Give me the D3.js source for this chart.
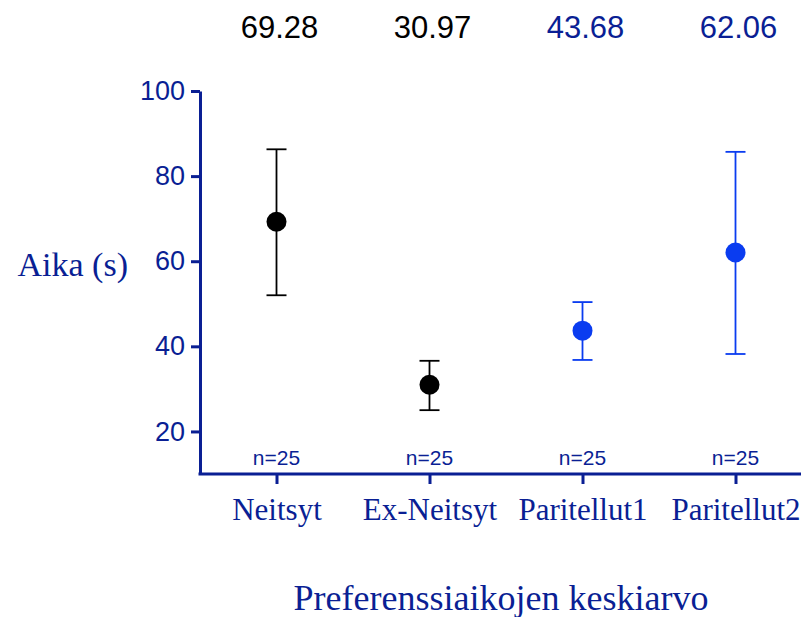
<!DOCTYPE html>
<html>
<head>
<meta charset="utf-8">
<script src="https://d3js.org/d3.v7.min.js"></script>
<style>
  body { margin: 0; background: #fff; }
  svg { display: block; }
</style>
</head>
<body>
<div id="chart"></div>
<script>
// data
var categories = ["Neitsyt", "Ex-Neitsyt", "Paritellut1", "Paritellut2"];
var means = [69.28, 30.97, 43.68, 62.06];
var upper = [86.3, 36.6, 50.4, 85.7];
var lower = [52.0, 25.0, 36.8, 38.2];
var counts = [25, 25, 25, 25];
var yTicks = [20, 40, 60, 80, 100];

var width = 801;
var height = 617;
var navy = "#0a1f94";

var rows = categories.map(function(c, i) {
  return { cat: c, mean: means[i], hi: upper[i], lo: lower[i], n: counts[i] };
});

// black for the first two groups, blue for the mated ones
var markColor = d3.scaleOrdinal().domain(categories)
  .range(["#000000", "#000000", "#0a3cf0", "#0a3cf0"]);
var topColor = d3.scaleOrdinal().domain(categories)
  .range(["#000000", "#000000", navy, navy]);

var svg = d3.select("#chart")
  .append("svg")
  .attr("width", width)
  .attr("height", height);

var x = d3.scalePoint()
  .domain(categories)
  .range([200, 812])
  .padding(0.5);

var y = d3.scaleLinear()
  .domain([10, 100])
  .range([474, 91]);

// axes
var yAxis = d3.axisLeft(y).tickValues(yTicks).tickSize(9).tickSizeOuter(0).tickPadding(6);
var xAxis = d3.axisBottom(x).tickSize(10).tickSizeOuter(0).tickPadding(14);

var gy = svg.append("g")
  .attr("class", "yAxis")
  .attr("transform", "translate(200,0)")
  .call(yAxis);
gy.selectAll("path, line").attr("stroke", navy).attr("stroke-width", 3);
gy.selectAll("text")
  .attr("fill", navy)
  .attr("font-family", "'Liberation Sans', Arial, sans-serif")
  .attr("font-size", 27);

var gx = svg.append("g")
  .attr("class", "xAxis")
  .attr("transform", "translate(0,474)")
  .call(xAxis);
gx.select(".domain").attr("d", "M198.5,0H" + width);
gx.selectAll("path, line").attr("stroke", navy).attr("stroke-width", 3);
gx.selectAll("text")
  .attr("fill", navy)
  .attr("font-family", "'Liberation Serif', 'Times New Roman', serif")
  .attr("font-size", 31);

// error bars
var bars = svg.selectAll("g.err").data(rows).enter()
  .append("g")
  .attr("class", "err")
  .attr("stroke", function(d) { return markColor(d.cat); })
  .attr("stroke-width", 1.8);
bars.append("line")
  .attr("x1", function(d) { return x(d.cat); })
  .attr("x2", function(d) { return x(d.cat); })
  .attr("y1", function(d) { return y(d.hi); })
  .attr("y2", function(d) { return y(d.lo); });
bars.append("line")
  .attr("x1", function(d) { return x(d.cat) - 10; })
  .attr("x2", function(d) { return x(d.cat) + 10; })
  .attr("y1", function(d) { return y(d.hi); })
  .attr("y2", function(d) { return y(d.hi); });
bars.append("line")
  .attr("x1", function(d) { return x(d.cat) - 10; })
  .attr("x2", function(d) { return x(d.cat) + 10; })
  .attr("y1", function(d) { return y(d.lo); })
  .attr("y2", function(d) { return y(d.lo); });

// mean dots
svg.selectAll("circle.mean").data(rows).enter()
  .append("circle")
  .attr("class", "mean")
  .attr("cx", function(d) { return x(d.cat); })
  .attr("cy", function(d) { return y(d.mean); })
  .attr("r", 10)
  .attr("fill", function(d) { return markColor(d.cat); });

// mean values on top
svg.selectAll("text.meanLabel").data(rows).enter()
  .append("text")
  .attr("class", "meanLabel")
  .attr("x", function(d) { return x(d.cat) + 3; })
  .attr("y", 38)
  .attr("text-anchor", "middle")
  .attr("font-family", "'Liberation Sans', Arial, sans-serif")
  .attr("font-size", 31)
  .attr("fill", function(d) { return topColor(d.cat); })
  .text(function(d) { return d3.format(".2f")(d.mean); });

// n labels
svg.selectAll("text.nLabel").data(rows).enter()
  .append("text")
  .attr("class", "nLabel")
  .attr("x", function(d) { return x(d.cat); })
  .attr("y", 465)
  .attr("text-anchor", "middle")
  .attr("font-family", "'Liberation Sans', Arial, sans-serif")
  .attr("font-size", 21)
  .attr("fill", navy)
  .text(function(d) { return "n=" + d.n; });

// axis titles
svg.append("text")
  .attr("x", 128)
  .attr("y", 276)
  .attr("text-anchor", "end")
  .attr("font-family", "'Liberation Serif', 'Times New Roman', serif")
  .attr("font-size", 34)
  .attr("fill", navy)
  .text("Aika (s)");

svg.append("text")
  .attr("x", 501)
  .attr("y", 610)
  .attr("text-anchor", "middle")
  .attr("font-family", "'Liberation Serif', 'Times New Roman', serif")
  .attr("font-size", 36)
  .attr("fill", navy)
  .text("Preferenssiaikojen keskiarvo");
</script>
</body>
</html>
